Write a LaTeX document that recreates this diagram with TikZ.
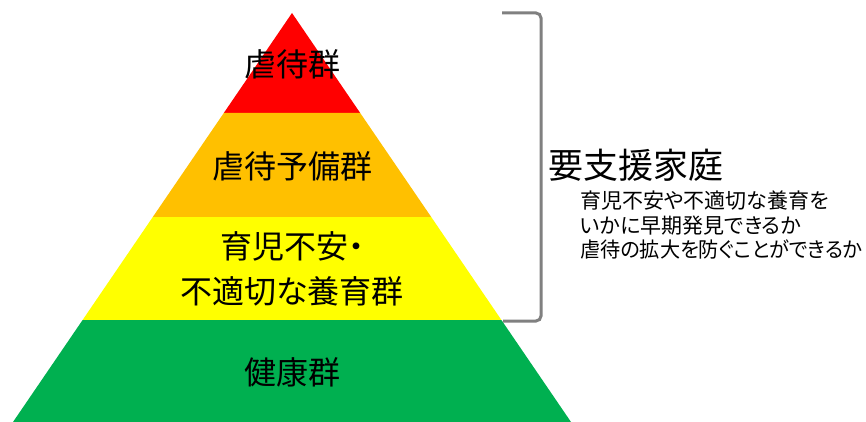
\documentclass[tikz,border=0pt]{standalone}
\usepackage{fontspec}
\setmainfont{Noto Sans CJK JP}[RawFeature=+palt]
\definecolor{lred}{HTML}{FF0000}
\definecolor{lorange}{HTML}{FFC000}
\definecolor{lyellow}{HTML}{FFFF00}
\definecolor{lgreen}{HTML}{00B050}
\definecolor{brk}{HTML}{808080}
\tikzset{
  layertext/.style={font=\fontsize{32}{40}\selectfont, text=black, align=center, inner sep=0pt},
  bigtext/.style={font=\fontsize{35}{40}\selectfont, text=black, anchor=west, inner sep=0pt},
  smalltext/.style={font=\fontsize{21}{24.5}\selectfont, text=black, anchor=north west, align=left, inner sep=0pt},
}
\begin{document}
\begin{tikzpicture}[x=1pt,y=-1pt]
\useasboundingbox (0,0) rectangle (866,422);
\fill[lred] (292,13) -- (360.2,113) -- (223.8,113) -- cycle;
\fill[lorange] (223.8,113) -- (360.2,113) -- (431.2,217) -- (152.8,217) -- cycle;
\fill[lyellow] (152.8,217) -- (431.2,217) -- (501.4,320) -- (82.6,320) -- cycle;
\fill[lgreen] (82.6,320) -- (501.4,320) -- (571,422) -- (13,422) -- cycle;
\node[layertext] (t1) at (292,64) {虐待群};
\node[layertext] (t2) at (292,166) {虐待予備群};
\node[layertext] (t3a) at (292,246) {育児不安・};
\node[layertext] (t3b) at (292,291) {不適切な養育群};
\node[layertext] (t4) at (292,372) {健康群};
\coordinate (b1) at (502,13);
\coordinate (b2) at (541,13);
\coordinate (b3) at (541,321);
\coordinate (b4) at (503,321);
\draw[brk, line width=3pt, rounded corners=5pt] (b1) -- (b2) -- (b3) -- (b4);
\node[bigtext] (hd) at (548,165) {要支援家庭};
\node[smalltext] (sub) at (580,191) {育児不安や不適切な養育を\\いかに早期発見できるか\\\scalebox{0.96}[1]{虐待の拡大を防ぐことができるか}};
\end{tikzpicture}
\end{document}
